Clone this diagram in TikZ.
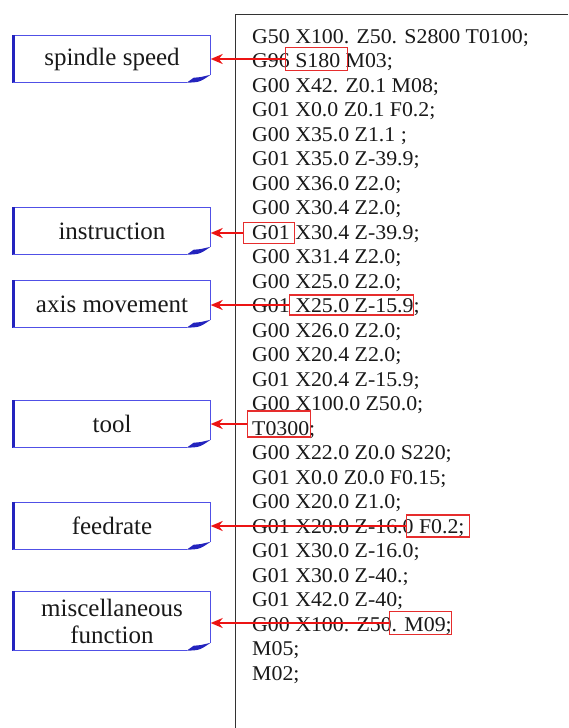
\documentclass[tikz,border=0pt]{standalone}
\usepackage{fontspec}
\setmainfont{Liberation Serif}
\newfontfamily\codefont[FakeStretch=1.04]{Liberation Serif}
\usetikzlibrary{arrows.meta}

\definecolor{noteblue}{RGB}{80,80,230}
\definecolor{notedark}{RGB}{35,35,190}
\definecolor{markred}{RGB}{236,20,20}
\definecolor{boxred}{RGB}{230,45,45}
\definecolor{inkgray}{RGB}{25,25,25}

\tikzset{
  notelabel/.style={minimum width=197pt, minimum height=47pt, inner sep=0pt,
    align=center, font=\fontsize{25}{27}\selectfont, text=inkgray},
  codeline/.style={anchor=base west, inner sep=0pt,
    font=\codefont\fontsize{21}{24}\selectfont, text=inkgray},
  hlbox/.style={draw=boxred, line width=1.1pt, inner sep=0pt},
  pointer/.style={draw=markred, line width=2pt, -{Stealth[length=12pt,width=10pt]}},
  codeframe/.style={draw=black!80, line width=1pt},
}

% outline of a note label: thick left edge, folded lower-right corner
\newcommand{\noteframe}[1]{%
  \draw[noteblue, line width=1.3pt]
    ([yshift=8pt]#1.south east) -- (#1.north east) -- (#1.north west);
  \draw[notedark, line width=2.8pt] (#1.north west) -- (#1.south west);
  \draw[noteblue, line width=1.3pt] (#1.south west) -- ([xshift=-24pt]#1.south east);
  \fill[notedark]
    ([xshift=-24pt]#1.south east)
      .. controls ([xshift=-11pt,yshift=0.5pt]#1.south east) .. ([yshift=8pt]#1.south east)
      .. controls ([xshift=-10pt,yshift=5.5pt]#1.south east) .. ([xshift=-17pt,yshift=5pt]#1.south east)
      -- cycle;
}

\begin{document}
\begin{tikzpicture}[x=1pt,y=-1pt]
\useasboundingbox (0,0) rectangle (568,728);

% program listing frame
\draw[codeframe] (568,14.5) -- (235.5,14.5) -- (235.5,728);

% program listing
\foreach \t [count=\i] in {
  G50 X100. Z50. S2800 T0100;,
  G96 S180 M03;,
  G00 X42. Z0.1 M08;,
  G01 X0.0 Z0.1 F0.2;,
  G00 X35.0 Z1.1 ;,
  G01 X35.0 Z-39.9;,
  G00 X36.0 Z2.0;,
  G00 X30.4 Z2.0;,
  G01 X30.4 Z-39.9;,
  G00 X31.4 Z2.0;,
  G00 X25.0 Z2.0;,
  G01 X25.0 Z-15.9;,
  G00 X26.0 Z2.0;,
  G00 X20.4 Z2.0;,
  G01 X20.4 Z-15.9;,
  G00 X100.0 Z50.0;,
  T0300;,
  G00 X22.0 Z0.0 S220;,
  G01 X0.0 Z0.0 F0.15;,
  G00 X20.0 Z1.0;,
  G01 X20.0 Z-16.0 F0.2;,
  G01 X30.0 Z-16.0;,
  G01 X30.0 Z-40.;,
  G01 X42.0 Z-40;,
  G00 X100. Z50. M09;,
  M05;,
  M02;}
  \node[codeline] (l\i) at (252, {43.2+(\i-1)*24.5}) {\t};

% highlighted words
\node[hlbox, minimum width=62pt,  minimum height=23pt] (hS) at (316.5,59)   {};
\node[hlbox, minimum width=51pt,  minimum height=21pt] (hG) at (269,233)    {};
\node[hlbox, minimum width=124pt, minimum height=20pt] (hX) at (351.5,305)  {};
\node[hlbox, minimum width=63pt,  minimum height=26pt] (hT) at (279,424)    {};
\node[hlbox, minimum width=63pt,  minimum height=22pt] (hF) at (438,526)    {};
\node[hlbox, minimum width=62pt,  minimum height=23pt] (hM) at (420.5,623)  {};

% note labels
\node[notelabel] (nSpindle) at (112,59)    {spindle speed};
\node[notelabel] (nInstr)   at (112,231)   {instruction};
\node[notelabel] (nAxis)    at (112,304)   {axis movement};
\node[notelabel] (nTool)    at (112,424)   {tool};
\node[notelabel] (nFeed)    at (112,526)   {feedrate};
\node[notelabel, minimum height=59pt] (nMisc) at (112,621) {miscellaneous\\function};

\foreach \n in {nSpindle,nInstr,nAxis,nTool,nFeed,nMisc} {\noteframe{\n}}

% pointers from highlighted words to labels
\draw[pointer] (hS.west) -- (hS.west -| nSpindle.east);
\draw[pointer] (hG.west) -- (hG.west -| nInstr.east);
\draw[pointer] (hX.west) -- (hX.west -| nAxis.east);
\draw[pointer] (hT.west) -- (hT.west -| nTool.east);
\draw[pointer] (hF.west) -- (hF.west -| nFeed.east);
\draw[pointer] (hM.west) -- (hM.west -| nMisc.east);
\end{tikzpicture}
\end{document}
